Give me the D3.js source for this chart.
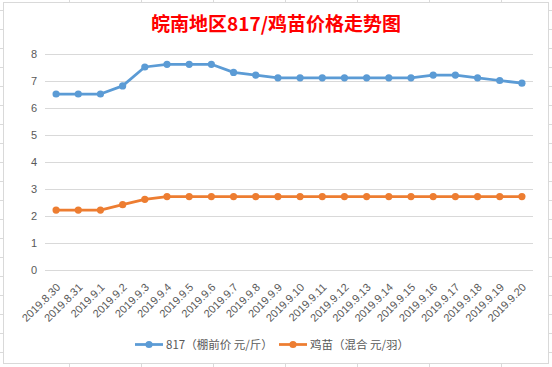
<!DOCTYPE html>
<html><head><meta charset="utf-8">
<script src="https://cdn.jsdelivr.net/npm/d3@7"></script>
<style>html,body{margin:0;padding:0;background:#fff;}svg{display:block;}</style>
</head><body>
<svg id="c" width="552" height="367"></svg>
<script>
const title = "皖南地区817/鸡苗价格走势图";
const categories = ["2019.8.30","2019.8.31","2019.9.1","2019.9.2","2019.9.3","2019.9.4","2019.9.5","2019.9.6","2019.9.7","2019.9.8","2019.9.9","2019.9.10","2019.9.11","2019.9.12","2019.9.13","2019.9.14","2019.9.15","2019.9.16","2019.9.17","2019.9.18","2019.9.19","2019.9.20"];
const seriesNames = ["817（棚前价 元/斤）","鸡苗（混合 元/羽）"];
const price817 = [6.5,6.5,6.5,6.8,7.5,7.6,7.6,7.6,7.3,7.2,7.1,7.1,7.1,7.1,7.1,7.1,7.1,7.2,7.2,7.1,7.0,6.9];
const priceChick = [2.2,2.2,2.2,2.4,2.6,2.7,2.7,2.7,2.7,2.7,2.7,2.7,2.7,2.7,2.7,2.7,2.7,2.7,2.7,2.7,2.7,2.7];
const yTicks = [0,1,2,3,4,5,6,7,8];
const colors = ["#5b9bd5","#ed7d31"];

const W = 552, H = 367;
const svg = d3.select("#c");
const grid = "#d9d9d9";

// spreadsheet background grid (outside chart)
const bg = svg.append("g");
for (let x = 69.5; x < W; x += 72) bg.append("line").attr("x1",x).attr("x2",x).attr("y1",0).attr("y2",H).attr("stroke","#dadada");
for (let y = 10.5; y < H; y += 19) bg.append("line").attr("x1",0).attr("x2",W).attr("y1",y).attr("y2",y).attr("stroke","#dadada");
// chart area
svg.append("rect").attr("x",3.5).attr("y",2.5).attr("width",545).attr("height",361)
  .attr("fill","#fff").attr("stroke",grid);

const x = d3.scalePoint().domain(categories).range([45,533]).padding(0.5);
const y = d3.scaleLinear().domain([0,8]).range([269.5,53.5]);

// gridlines
svg.append("g").selectAll("line").data(yTicks).join("line")
  .attr("x1",45).attr("x2",533).attr("y1",d=>Math.round(y(d))+0.5).attr("y2",d=>Math.round(y(d))+0.5)
  .attr("stroke",grid).attr("stroke-width",1);

// y axis labels
const yAxis = d3.axisLeft(y).tickValues(yTicks).tickSize(0).tickPadding(0);
const ya = svg.append("g").attr("transform","translate(37,0)").call(yAxis);
ya.select(".domain").remove();
ya.selectAll("text").attr("fill","#595959").attr("font-size","11px").attr("font-family","'Liberation Sans',Arial,sans-serif");

// x labels
const xAxis = d3.axisBottom(x).tickSize(0).tickPadding(0);
const xa = svg.append("g").attr("transform","translate(0,0)").call(xAxis);
xa.select(".domain").remove();
xa.selectAll(".tick").attr("transform", d => `translate(${x(d)+5},288)`);
xa.selectAll("text").attr("transform","rotate(-45)").attr("text-anchor","end").attr("y",0).attr("dy","0")
  .attr("fill","#595959").attr("font-size","11px").attr("font-family","'Liberation Sans',Arial,sans-serif");

// series
const data = [price817, priceChick];
const line = d3.line().x((d,i)=>x(categories[i])).y(d=>y(d));
data.forEach((s,k)=>{
  svg.append("path").attr("d",line(s)).attr("fill","none").attr("stroke",colors[k])
    .attr("stroke-width",2.75).attr("stroke-linejoin","round").attr("stroke-linecap","round");
  svg.append("g").selectAll("circle").data(s).join("circle")
    .attr("cx",(d,i)=>x(categories[i])).attr("cy",d=>y(d)).attr("r",3.6).attr("fill",colors[k]);
});

// title
svg.append("text").attr("x",276).attr("y",31).attr("text-anchor","middle")
  .attr("font-family","'Noto Sans CJK SC',sans-serif").attr("font-weight","bold").attr("font-size","19px")
  .attr("fill","#ff0000").text(title);

// legend
const leg = svg.append("g");
const legX = [135, 279];
seriesNames.forEach((n,k)=>{
  const g = leg.append("g").attr("transform",`translate(${legX[k]},344.5)`);
  g.append("line").attr("x1",0).attr("x2",28).attr("y1",0).attr("y2",0).attr("stroke",colors[k]).attr("stroke-width",2.75);
  g.append("circle").attr("cx",14).attr("cy",0).attr("r",3.6).attr("fill",colors[k]);
  g.append("text").attr("x",31).attr("y",0).attr("dy","0.36em").attr("fill","#595959")
    .attr("font-family","'Noto Sans CJK SC',sans-serif").attr("font-size","11.5px").text(n);
});
</script>
</body></html>
